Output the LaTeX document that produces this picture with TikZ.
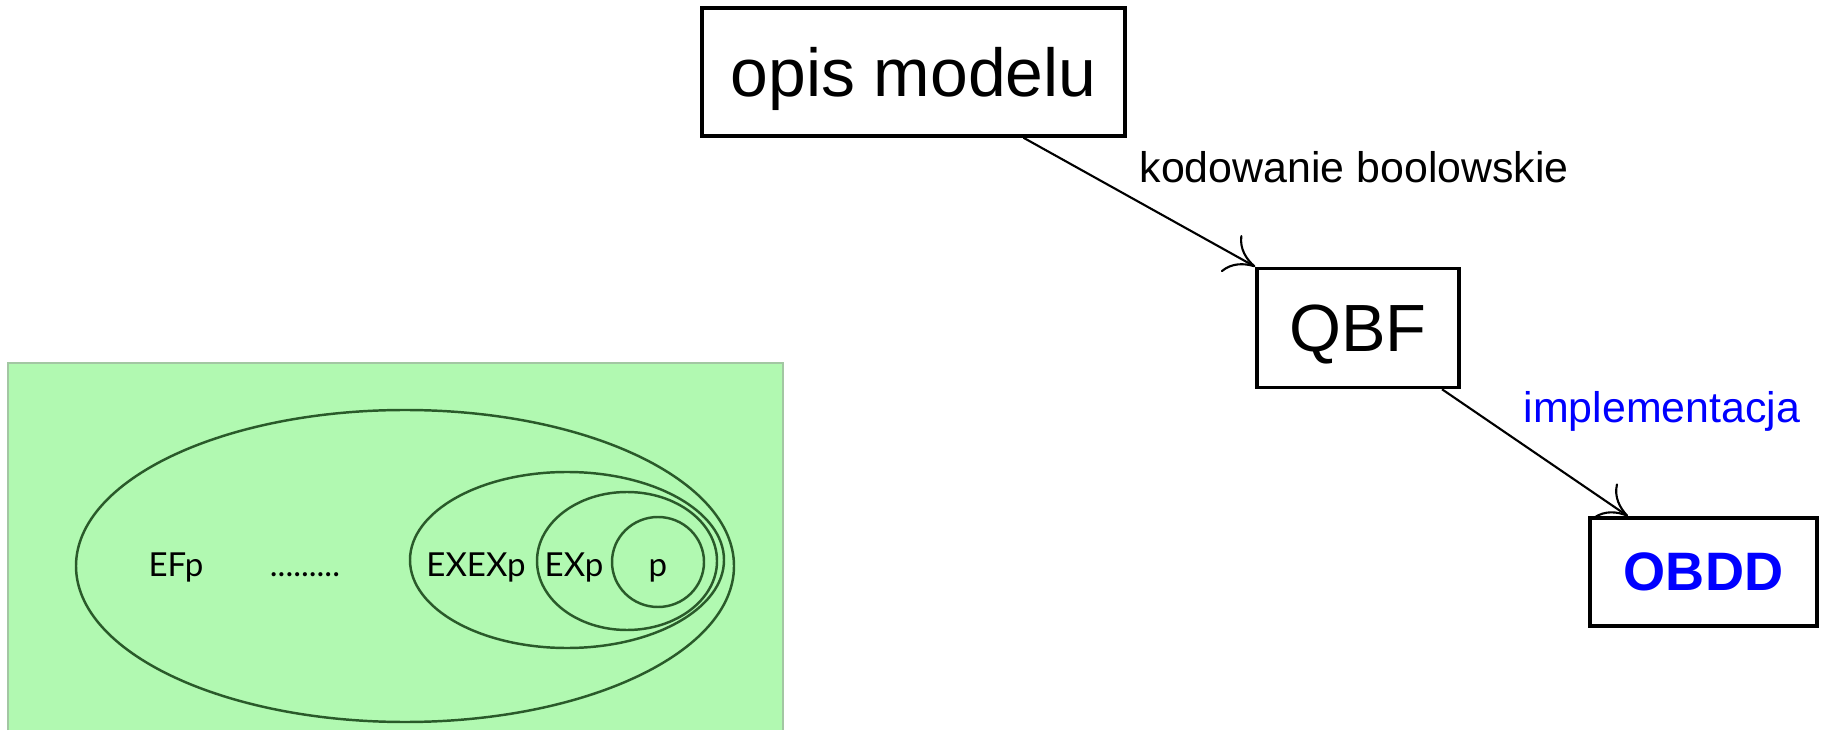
\documentclass[tikz,border=0pt]{standalone}
\usepackage{fontspec}
\setmainfont{Liberation Sans}
\newfontfamily\setfont{Lato}
\usetikzlibrary{arrows.meta,positioning,calc}
\definecolor{panelgreen}{HTML}{B1F9B1}
\definecolor{paneledge}{HTML}{A3C7A3}
\definecolor{setline}{HTML}{2A5A2A}
\definecolor{implblue}{HTML}{0000FF}

\begin{document}
\begin{tikzpicture}[
    stage/.style={draw=black, line width=1pt, inner sep=0pt, text depth=0pt, align=center},
    edgelabel/.style={anchor=base west, inner sep=0pt, font=\fontsize{12.2}{14}\selectfont},
    setlabel/.style={anchor=base, inner sep=0pt, font=\setfont\fontsize{9.4}{11}\selectfont},
    setring/.style={draw=setline, line width=0.7pt},
    arrow/.style={-{To[length=8pt,width=12pt]}, line width=0.6pt}
]
\useasboundingbox (0,0) rectangle (18.21,7.30);

% nested sets panel
\fill[panelgreen] (0.08,0) rectangle (7.83,3.67);
\draw[paneledge, line width=0.6pt] (0.08,0) -- (0.08,3.67) -- (7.83,3.67) -- (7.83,0);
\draw[setring] (4.05,1.64) ellipse [x radius=3.29, y radius=1.56];
\draw[setring] (5.67,1.70) ellipse [x radius=1.57, y radius=0.88];
\draw[setring] (6.27,1.69) ellipse [x radius=0.90, y radius=0.69];
\draw[setring] (6.58,1.68) ellipse [x radius=0.46, y radius=0.45];

\node[setlabel] (efp) at (1.76,1.53) {EFp};
\node[setlabel] (dots) at (3.05,1.54) {.........};
\node[setlabel] (exexp) at (4.76,1.53) {EXEXp};
\node[setlabel] (exp) at (5.74,1.53) {EXp};
\node[setlabel] (p) at (6.58,1.53) {p};

% pipeline
\node[stage, minimum width=4.23cm, minimum height=1.28cm, font=\fontsize{19.3}{23}\selectfont] (model) at (9.135,6.58) {opis modelu};
\node[stage, minimum width=2.02cm, minimum height=1.19cm, font=\fontsize{19}{23}\selectfont] (qbf) at (13.58,4.02) {QBF};
\node[stage, minimum width=2.27cm, minimum height=1.08cm, font=\fontsize{15.4}{18}\selectfont\bfseries, text=implblue] (obdd) at (17.035,1.58) {OBDD};

\node[edgelabel] (encode) at (11.39,5.47) {kodowanie boolowskie};
\node[edgelabel, text=implblue] (impl) at (15.23,3.07) {implementacja};

\draw[arrow] ([xshift=1.1cm]model.south) -- (qbf.north west);
\draw[arrow] ([xshift=0.84cm]qbf.south) -- ([xshift=-0.755cm]obdd.north);

\end{tikzpicture}
\end{document}
